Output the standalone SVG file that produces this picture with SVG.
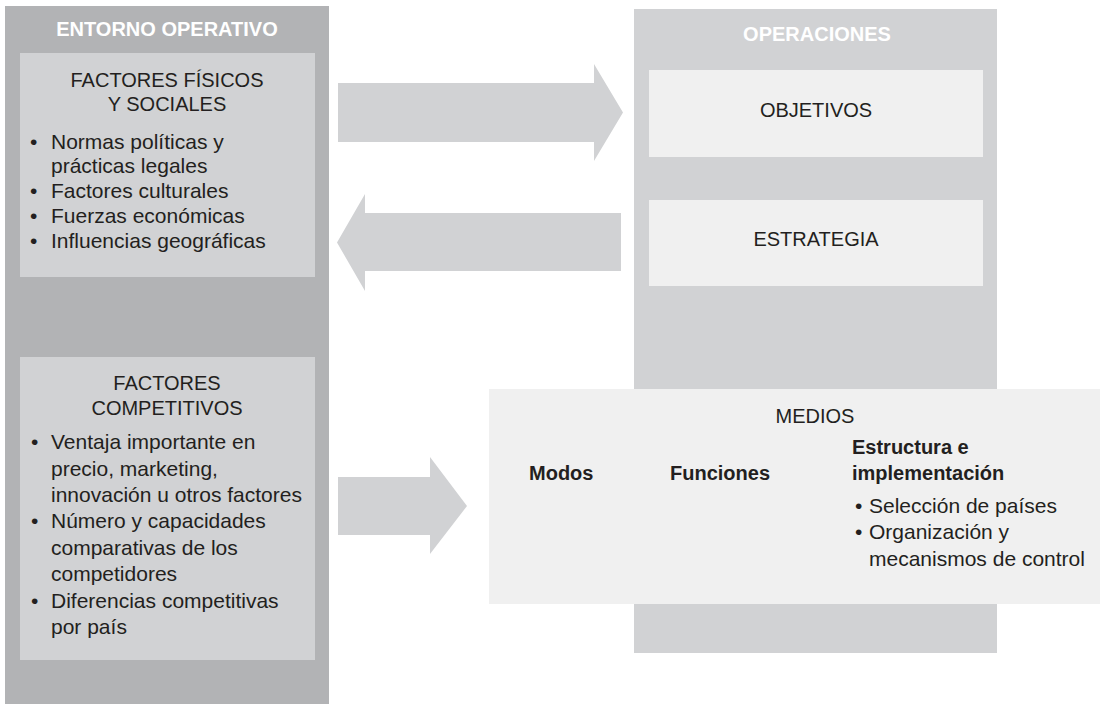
<svg xmlns="http://www.w3.org/2000/svg" width="1100" height="704" viewBox="0 0 1100 704">
<style>
.dark{fill:#b2b3b5}
.mid{fill:#d1d2d4}
.light{fill:#f0f0f0}
.arrow{fill:#d1d2d4}
text{font-family:"Liberation Sans",Arial,sans-serif;fill:#231f20}
.hdr{font-weight:bold;font-size:20px;fill:#ffffff;text-anchor:middle}
.ttl{font-size:20px;text-anchor:middle}
.body{font-size:21px}
.bold{font-weight:bold;font-size:20px}
</style>
<rect width="1100" height="704" fill="#ffffff"/>
<g id="entorno">
<rect class="dark" x="5" y="6" width="324" height="698"/>
<text class="hdr" x="167" y="36">ENTORNO OPERATIVO</text>
</g>
<g id="fisicos">
<rect class="mid" x="20" y="53" width="295" height="224"/>
<text class="ttl" x="167" y="87">FACTORES FÍSICOS</text>
<text class="ttl" x="167" y="111">Y SOCIALES</text>
<text class="body" x="30" y="149">•</text>
<text class="body" x="51" y="149">Normas políticas y</text>
<text class="body" x="51" y="173">prácticas legales</text>
<text class="body" x="30" y="198">•</text>
<text class="body" x="51" y="198">Factores culturales</text>
<text class="body" x="30" y="223">•</text>
<text class="body" x="51" y="223">Fuerzas económicas</text>
<text class="body" x="30" y="248">•</text>
<text class="body" x="51" y="248">Influencias geográficas</text>
</g>
<g id="competitivos">
<rect class="mid" x="20" y="357" width="295" height="303"/>
<text class="ttl" x="167" y="390">FACTORES</text>
<text class="ttl" x="167" y="415">COMPETITIVOS</text>
<text class="body" x="31" y="449">•</text>
<text class="body" x="51" y="449">Ventaja importante en</text>
<text class="body" x="51" y="476">precio, marketing,</text>
<text class="body" x="51" y="502">innovación u otros factores</text>
<text class="body" x="31" y="528">•</text>
<text class="body" x="51" y="528">Número y capacidades</text>
<text class="body" x="51" y="555">comparativas de los</text>
<text class="body" x="51" y="581">competidores</text>
<text class="body" x="31" y="608">•</text>
<text class="body" x="51" y="608">Diferencias competitivas</text>
<text class="body" x="51" y="634">por país</text>
</g>
<g id="operaciones">
<rect class="mid" x="634" y="9" width="363" height="644"/>
<text class="hdr" x="817" y="41">OPERACIONES</text>
</g>
<g id="objetivos">
<rect class="light" x="649" y="70" width="334" height="87"/>
<text class="ttl" x="816" y="117">OBJETIVOS</text>
</g>
<g id="estrategia">
<rect class="light" x="649" y="200" width="334" height="86"/>
<text class="ttl" x="816" y="246">ESTRATEGIA</text>
</g>
<g id="medios">
<rect class="light" x="489" y="389" width="611" height="215"/>
<text class="ttl" x="815" y="423">MEDIOS</text>
<text class="bold" x="529" y="480">Modos</text>
<text class="bold" x="670" y="480">Funciones</text>
<text class="bold" x="852" y="454">Estructura e</text>
<text class="bold" x="852" y="480">implementación</text>
<text class="body" x="855" y="513">•</text>
<text class="body" x="869" y="513">Selección de países</text>
<text class="body" x="855" y="539">•</text>
<text class="body" x="869" y="539">Organización y</text>
<text class="body" x="869" y="566">mecanismos de control</text>
</g>
<g id="connectors">
<polygon class="arrow" points="338,83 594,83 594,64 623,112.5 594,161 594,142 338,142"/>
<polygon class="arrow" points="621,213 365,213 365,194 337,242.5 365,291 365,271 621,271"/>
<polygon class="arrow" points="338,477 430,477 430,457 467,506 430,554 430,535 338,535"/>
</g>
</svg>
